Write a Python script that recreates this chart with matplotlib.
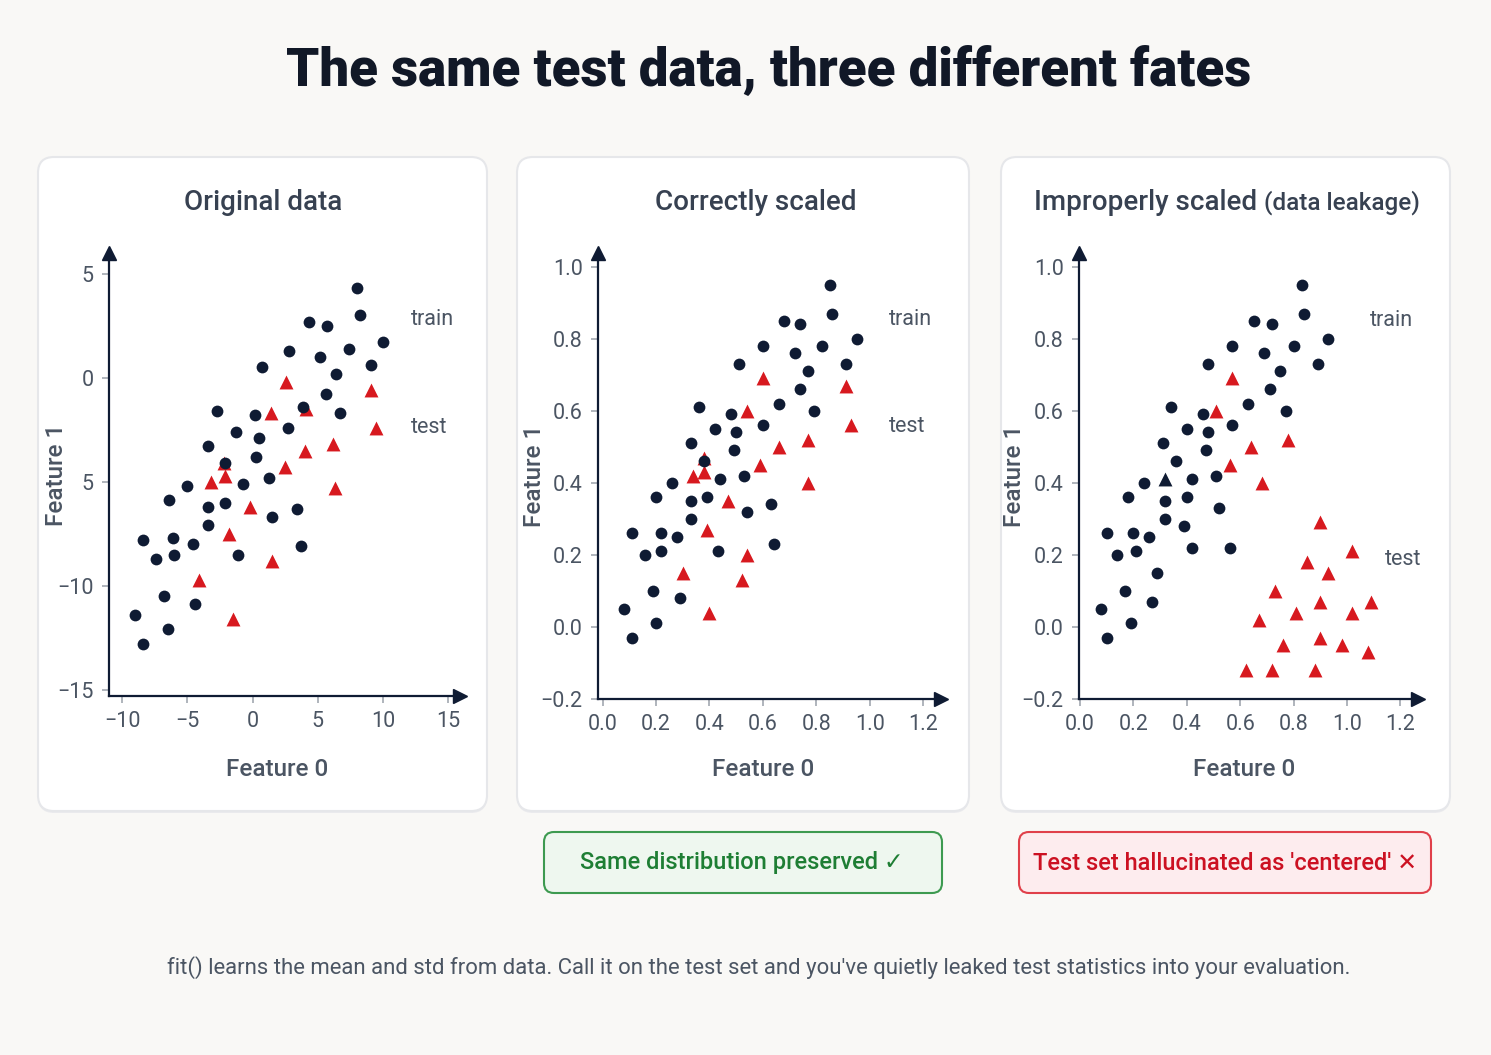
import numpy as np
import matplotlib
matplotlib.use('Agg')
import matplotlib.pyplot as plt
from matplotlib.patches import FancyBboxPatch

plt.rcParams['font.family'] = ['Roboto', 'DejaVu Sans']

# Dados
# Painel 1: dados originais
orig_train_x = [8.0, 8.2, 4.3, 5.7, 10.0, 2.8, 7.4, 5.2, 0.7, 9.1, 6.4, 5.6, 3.9, 6.7, -2.7,
                0.2, 2.7, -1.3, 0.5, -3.4, 0.3, -2.1, 1.3, -5.0, -0.7, -6.4, -2.1, -3.4, 3.4,
                1.5, -3.4, -8.4, -6.1, -4.6, -7.4, -6.0, -1.1, 3.7, -6.8, -4.4, -9.0, -6.5, -8.4]
orig_train_y = [4.3, 3.0, 2.7, 2.5, 1.7, 1.3, 1.4, 1.0, 0.5, 0.6, 0.2, -0.8, -1.4, -1.7, -1.6,
                -1.8, -2.4, -2.6, -2.9, -3.3, -3.8, -4.1, -4.8, -5.2, -5.1, -5.9, -6.0, -6.2, -6.3,
                -6.7, -7.1, -7.8, -7.7, -8.0, -8.7, -8.5, -8.5, -8.1, -10.5, -10.9, -11.4, -12.1, -12.8]
orig_test_x = [2.6, 9.1, 1.4, 9.5, 6.2, 4.0, 2.5, -2.2, -2.1, -3.2, 6.3, -0.2, -1.8, 1.5, -4.1, -1.5, 4.1]
orig_test_y = [-0.2, -0.6, -1.7, -2.4, -3.2, -3.5, -4.3, -4.1, -4.7, -5.0, -5.3, -6.2, -7.5, -8.8,
               -9.7, -11.6, -1.5]

# Painel 2: escalonado corretamente
ok_train_x = [0.85, 0.86, 0.68, 0.74, 0.95, 0.60, 0.82, 0.72, 0.51, 0.91, 0.77, 0.74, 0.66, 0.79, 0.36,
              0.48, 0.60, 0.42, 0.50, 0.33, 0.49, 0.38, 0.53, 0.26, 0.44, 0.20, 0.39, 0.33, 0.63,
              0.54, 0.33, 0.11, 0.22, 0.28, 0.16, 0.22, 0.43, 0.64, 0.19, 0.29, 0.08, 0.20, 0.11]
ok_train_y = [0.95, 0.87, 0.85, 0.84, 0.80, 0.78, 0.78, 0.76, 0.73, 0.73, 0.71, 0.66, 0.62, 0.60, 0.61,
              0.59, 0.56, 0.55, 0.54, 0.51, 0.49, 0.46, 0.42, 0.40, 0.41, 0.36, 0.36, 0.35, 0.34,
              0.32, 0.30, 0.26, 0.26, 0.25, 0.20, 0.21, 0.21, 0.23, 0.10, 0.08, 0.05, 0.01, -0.03]
ok_test_x = [0.60, 0.91, 0.54, 0.93, 0.77, 0.66, 0.59, 0.38, 0.38, 0.34, 0.77, 0.47, 0.39, 0.54,
             0.30, 0.52, 0.40]
ok_test_y = [0.69, 0.67, 0.60, 0.56, 0.52, 0.50, 0.45, 0.47, 0.43, 0.42, 0.40, 0.35, 0.27, 0.20,
             0.15, 0.13, 0.04]

# Painel 3: escalonado com vazamento
leak_train_x = [0.83, 0.84, 0.65, 0.72, 0.93, 0.57, 0.80, 0.69, 0.48, 0.89, 0.75, 0.71, 0.63, 0.77,
                0.34, 0.46, 0.57, 0.40, 0.48, 0.31, 0.47, 0.36, 0.51, 0.24, 0.42, 0.18, 0.40, 0.32,
                0.52, 0.32, 0.39, 0.10, 0.20, 0.26, 0.14, 0.21, 0.42, 0.56, 0.29, 0.17, 0.27, 0.08,
                0.19, 0.10]
leak_train_y = [0.95, 0.87, 0.85, 0.84, 0.80, 0.78, 0.78, 0.76, 0.73, 0.73, 0.71, 0.66, 0.62, 0.60,
                0.61, 0.59, 0.56, 0.55, 0.54, 0.51, 0.49, 0.46, 0.42, 0.40, 0.41, 0.36, 0.36, 0.35,
                0.33, 0.30, 0.28, 0.26, 0.26, 0.25, 0.20, 0.21, 0.22, 0.22, 0.15, 0.10, 0.07, 0.05,
                0.01, -0.03]
leak_odd_x = [0.32]
leak_odd_y = [0.41]
leak_test_x = [0.57, 0.51, 0.78, 0.64, 0.56, 0.68, 0.90, 1.02, 0.85, 0.93, 0.73, 0.90, 1.09, 0.67,
               0.81, 1.02, 0.76, 0.90, 0.98, 1.08, 0.62, 0.72, 0.88]
leak_test_y = [0.69, 0.60, 0.52, 0.50, 0.45, 0.40, 0.29, 0.21, 0.18, 0.15, 0.10, 0.07, 0.07, 0.02,
               0.04, 0.04, -0.05, -0.03, -0.05, -0.07, -0.12, -0.12, -0.12]

orig_xticks = [-10, -5, 0, 5, 10, 15]
orig_xlabels = ['\u221210', '\u22125', '0', '5', '10', '15']
orig_yticks = [-15, -10, -5, 0, 5]
orig_ylabels = ['\u221215', '\u221210', '5', '0', '5']
scaled_xticks = [0.0, 0.2, 0.4, 0.6, 0.8, 1.0, 1.2]
scaled_xlabels = ['0.0', '0.2', '0.4', '0.6', '0.8', '1.0', '1.2']
scaled_yticks = [-0.2, 0.0, 0.2, 0.4, 0.6, 0.8, 1.0]
scaled_ylabels = ['\u22120.2', '0.0', '0.2', '0.4', '0.6', '0.8', '1.0']

titles = ['Original data', 'Correctly scaled', 'Improperly scaled']

NAVY = '#0f1b33'
RED = '#d7191f'
GRAY = '#4b5563'
BG = '#f9f8f6'
W, H = 1491, 1055

fig = plt.figure(figsize=(W / 100, H / 100), dpi=100, facecolor=BG)

# camada de fundo em pixels (cards, título, badges)
bg = fig.add_axes([0, 0, 1, 1])
bg.set_xlim(0, W)
bg.set_ylim(H, 0)
bg.axis('off')

bg.text(769, 72, 'The same test data, three different fates', ha='center', va='center',
        fontsize=38, fontweight='heavy', color='#111827')

cards = [(38, 157, 487, 811), (517, 157, 969, 811), (1001, 157, 1450, 811)]
title_x = [263, 756, 1227]
title_objs = []
for (x0, y0, x1, y1), t, tx in zip(cards, titles, title_x):
    sh = FancyBboxPatch((x0, y0 + 2), x1 - x0, y1 - y0, boxstyle='round,pad=0,rounding_size=16',
                        fc='#ebebee', ec='none', zorder=1)
    bg.add_patch(sh)
    c = FancyBboxPatch((x0, y0), x1 - x0, y1 - y0, boxstyle='round,pad=0,rounding_size=16',
                       fc='white', ec='#e6e7ea', lw=1.5, zorder=2)
    bg.add_patch(c)
    title_objs.append(bg.text(tx, 202, t, ha='center', va='center', fontsize=20,
                              fontweight='medium', color='#374151', zorder=3))

# título do painel 3 em duas partes (parênteses menor)
t_main = title_objs[2]
t_sub = bg.text(0, 203, ' (data leakage)', ha='left', va='center', fontsize=17.5,
                fontweight='medium', color='#374151', zorder=3)
renderer = fig.canvas.get_renderer()
w_main = t_main.get_window_extent(renderer).width
w_sub = t_sub.get_window_extent(renderer).width
start = title_x[2] - (w_main + w_sub) / 2
t_main.set_ha('left')
t_main.set_x(start)
t_sub.set_x(start + w_main)

# badges
bg.add_patch(FancyBboxPatch((544, 832), 398, 61, boxstyle='round,pad=0,rounding_size=10',
                            fc='#eef7ef', ec='#3d9a50', lw=1.5, zorder=2))
bg.text(742, 863, 'Same distribution preserved \u2713', ha='center', va='center',
        fontsize=17, fontweight='medium', color='#1e7e34', zorder=3)
bg.add_patch(FancyBboxPatch((1019, 832), 412, 61, boxstyle='round,pad=0,rounding_size=10',
                            fc='#fdecee', ec='#e0404a', lw=1.5, zorder=2))
bg.text(1225, 863, "Test set hallucinated as 'centered' \u2715", ha='center', va='center',
        fontsize=17, fontweight='medium', color='#cc1122', zorder=3)

bg.text(759, 968, "fit() learns the mean and std from data. Call it on the test set and you've "
        "quietly leaked test statistics into your evaluation.", ha='center', va='center',
        fontsize=15.9, color=GRAY)


def make_ax(box, xlim, ylim):
    l, t, r, b = box
    ax = fig.add_axes([l / W, 1 - b / H, (r - l) / W, (b - t) / H])
    ax.patch.set_alpha(0)
    ax.set_xlim(*xlim)
    ax.set_ylim(*ylim)
    for s in ['top', 'right']:
        ax.spines[s].set_visible(False)
    for s in ['left', 'bottom']:
        ax.spines[s].set_color(NAVY)
        ax.spines[s].set_linewidth(1.6)
    ax.plot(1, 0, '>', color=NAVY, ms=10, transform=ax.transAxes, clip_on=False)
    ax.plot(0, 1, '^', color=NAVY, ms=10, transform=ax.transAxes, clip_on=False)
    ax.tick_params(length=5, width=1.1, color='#9aa0aa', labelcolor=GRAY, labelsize=15.5, pad=6)
    return ax


ax1 = make_ax((109, 253, 460, 696), (-11, 15.9), (-15.3, 6.0))
ax2 = make_ax((598, 253, 941, 699), (-0.017, 1.266), (-0.2, 1.038))
ax3 = make_ax((1079, 253, 1418, 699), (-0.004, 1.266), (-0.2, 1.038))

ax1.scatter(orig_test_x, orig_test_y, marker='^', s=100, color=RED, lw=0, zorder=3)
ax1.scatter(orig_train_x, orig_train_y, marker='o', s=72, color=NAVY, lw=0, zorder=4)
ax2.scatter(ok_test_x, ok_test_y, marker='^', s=100, color=RED, lw=0, zorder=3)
ax2.scatter(ok_train_x, ok_train_y, marker='o', s=72, color=NAVY, lw=0, zorder=4)
ax3.scatter(leak_test_x, leak_test_y, marker='^', s=100, color=RED, lw=0, zorder=3)
ax3.scatter(leak_train_x, leak_train_y, marker='o', s=72, color=NAVY, lw=0, zorder=4)
ax3.scatter(leak_odd_x, leak_odd_y, marker='^', s=100, color=NAVY, lw=0, zorder=4)

ax1.set_xticks(orig_xticks, orig_xlabels)
ax1.set_yticks(orig_yticks, orig_ylabels)
for ax in [ax2, ax3]:
    ax.set_xticks(scaled_xticks, scaled_xlabels)
    ax.set_yticks(scaled_yticks, scaled_ylabels)

label_pos = [(ax1, 0.479, -0.14, -0.118), (ax2, 0.481, -0.132, -0.152), (ax3, 0.487, -0.132, -0.155)]
for ax, xx, xy, yx in label_pos:
    ax.set_xlabel('Feature 0', fontsize=17.5, fontweight='medium', color=GRAY)
    ax.set_ylabel('Feature 1', fontsize=17.5, fontweight='medium', color=GRAY)
    ax.xaxis.set_label_coords(xx, xy)
    ax.yaxis.set_label_coords(yx, 0.5)

# rótulos train / test
ax1.text(0.86, 0.851, 'train', transform=ax1.transAxes, fontsize=15.5, color=GRAY, va='center')
ax1.text(0.86, 0.607, 'test', transform=ax1.transAxes, fontsize=15.5, color=GRAY, va='center')
ax2.text(0.849, 0.852, 'train', transform=ax2.transAxes, fontsize=15.5, color=GRAY, va='center')
ax2.text(0.849, 0.61, 'test', transform=ax2.transAxes, fontsize=15.5, color=GRAY, va='center')
ax3.text(0.858, 0.848, 'train', transform=ax3.transAxes, fontsize=15.5, color=GRAY, va='center')
ax3.text(0.902, 0.312, 'test', transform=ax3.transAxes, fontsize=15.5, color=GRAY, va='center')

fig.savefig('out.png', dpi=100, facecolor=BG)
